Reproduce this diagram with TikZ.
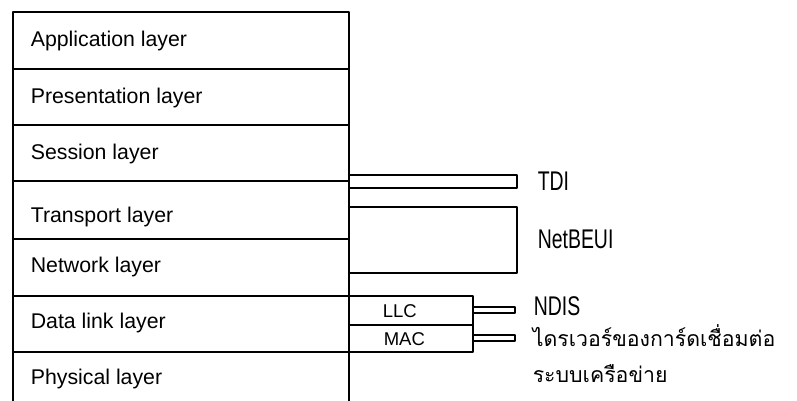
\documentclass[tikz,border=0pt]{standalone}
\usepackage{fontspec}
\setmainfont{Liberation Sans}
\newfontfamily\narrowfont{Liberation Sans}[FakeStretch=0.72]
\newfontfamily\thaifont[Script=Thai]{Loma}
\usetikzlibrary{positioning}

\begin{document}
\begin{tikzpicture}[x=1pt, y=-1pt, line join=round, line width=1.6pt,
    layer/.style={anchor=base west, inner sep=0pt, font=\fontsize{21.3}{25}\selectfont},
    sub/.style={anchor=base west, inner sep=0pt, font=\fontsize{18.5}{22}\selectfont},
    proto/.style={anchor=base west, inner sep=0pt, font=\narrowfont\fontsize{27}{30}\selectfont},
    thai/.style={anchor=base west, inner sep=0pt, font=\thaifont\fontsize{21.3}{25}\selectfont}]
    \useasboundingbox (0,0) rectangle (797,401);
    % the seven layers, open at the bottom
    \draw (13,401) -- (13,12) -- (349,12) -- (349,401);
    \foreach \y in {69,125,181,239,296,352}
      \draw (13,\y) -- (349,\y);
    \node[layer] (app) at (30,47) {Application layer};
    \node[layer] (pres) at (30,103) {Presentation layer};
    \node[layer] (sess) at (30,159) {Session layer};
    \node[layer] (trans) at (30,222) {Transport layer};
    \node[layer] (net) at (30,272) {Network layer};
    \node[layer] (dlink) at (30,328) {Data link layer};
    \node[layer] (phys) at (30,384) {Physical layer};
    % TDI and NetBEUI
    \draw (349,175) -- (517,175) -- (517,188) -- (349,188);
    \draw (349,207) -- (517,207) -- (517,273) -- (349,273);
    \node[proto] (tdi) at (537,190) {TDI};
    \node[proto] (netbeui) at (537,248) {NetBEUI};
    % LLC and MAC with their drivers
    \draw (349,296) -- (473,296) -- (473,352) -- (349,352);
    \draw (349,325) -- (473,325);
    \node[sub] (llc) at (382,317) {LLC};
    \node[sub] (mac) at (383,345) {MAC};
    \draw (473,307) -- (515,307) -- (515,313) -- (473,313);
    \draw (473,335) -- (515,335) -- (515,341) -- (473,341);
    \node[proto] (ndis) at (533,315) {NDIS};
    \node[thai] (drv) at (532,346) {ไดรเวอร์ของการ์ดเชื่อมต่อ};
    \node[thai] (nic) at (532,382) {ระบบเครือข่าย};
\end{tikzpicture}
\end{document}
